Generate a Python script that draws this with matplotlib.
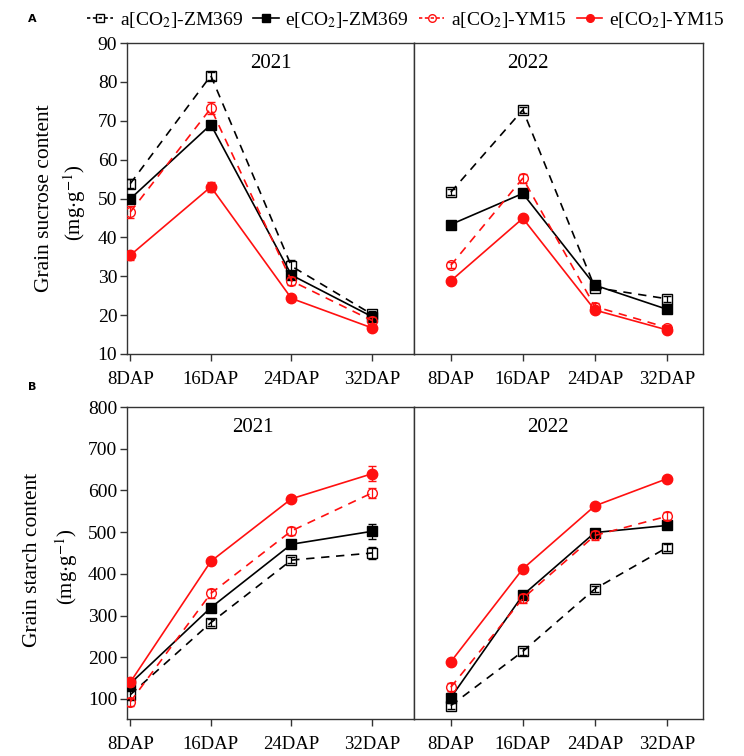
import matplotlib
matplotlib.use("Agg")
import matplotlib.pyplot as plt
from matplotlib.lines import Line2D
import numpy as np

plt.rcParams['font.family'] = ['Liberation Serif', 'DejaVu Serif']
plt.rcParams['mathtext.fontset'] = 'stix'

stages = ['8DAP', '16DAP', '24DAP', '32DAP']
years = ['2021', '2022']

# sucrose content (mg/g), per year
suc_a_zm = [[53.8, 81.6, 32.6, 20.2], [51.6, 72.8, 27.1, 24.2]]
suc_e_zm = [[49.9, 69.0, 30.3, 19.6], [43.3, 51.3, 27.7, 21.5]]
suc_a_ym = [[46.5, 73.2, 28.8, 18.6], [32.8, 55.2, 22.2, 16.8]]
suc_e_ym = [[35.4, 53.0, 24.3, 16.7], [28.8, 44.9, 21.3, 16.2]]
suc_a_zm_err = [[1.2, 1.0, 1.5, 0.8], [0.8, 0.8, 0.5, 0.8]]
suc_e_zm_err = [[0.8, 0.8, 0.8, 0.8], [0.5, 0.5, 0.5, 0.5]]
suc_a_ym_err = [[1.5, 1.5, 1.0, 0.8], [0.8, 1.2, 0.8, 0.6]]
suc_e_ym_err = [[1.2, 1.2, 0.6, 0.6], [0.5, 0.5, 0.5, 0.5]]

# starch content (mg/g), per year
sta_a_zm = [[110, 283, 433, 450], [84, 214, 364, 463]]
sta_e_zm = [[137, 319, 471, 502], [103, 349, 499, 516]]
sta_a_ym = [[93, 353, 503, 594], [128, 341, 492, 538]]
sta_e_ym = [[140, 430, 580, 640], [189, 412, 563, 628]]
sta_a_zm_err = [[10, 8, 8, 15], [8, 8, 8, 8]]
sta_e_zm_err = [[8, 8, 8, 18], [12, 6, 6, 6]]
sta_a_ym_err = [[10, 10, 10, 12], [10, 10, 10, 10]]
sta_e_ym_err = [[8, 6, 6, 18], [6, 6, 6, 6]]

labels = ['a[CO$_2$]-ZM369', 'e[CO$_2$]-ZM369', 'a[CO$_2$]-YM15', 'e[CO$_2$]-YM15']
styles = [
    dict(color='black', ls='--', marker='s', mfc='none', mec='black', ms=6.5),
    dict(color='black', ls='-', marker='s', mfc='black', mec='black', ms=7),
    dict(color='#ff1010', ls='--', marker='o', mfc='none', mec='#ff1010', ms=7),
    dict(color='#ff1010', ls='-', marker='o', mfc='#ff1010', mec='#ff1010', ms=7.5),
]

fig = plt.figure(figsize=(7.44, 7.56), dpi=100)

W, H = 744.0, 756.0
def box(x0, x1, y0, y1):
    return [x0 / W, 1 - y1 / H, (x1 - x0) / W, (y1 - y0) / H]

axA = [fig.add_axes(box(127, 414, 43, 354)), fig.add_axes(box(414, 703, 43, 354))]
axB = [fig.add_axes(box(127, 414, 407, 719)), fig.add_axes(box(414, 703, 407, 719))]

x = np.arange(len(stages))

def draw_panel(axes, series, errs, ylim, yticks, xpos_text):
    for i, ax in enumerate(axes):
        for k, (vals, err) in enumerate(zip(series, errs)):
            st = styles[k]
            ax.errorbar(x, vals[i], yerr=err[i], color=st['color'], ls=st['ls'],
                        lw=1.2, marker=st['marker'], mfc=st['mfc'], mec=st['mec'],
                        ms=st['ms'], mew=1.0, capsize=3, elinewidth=0.9,
                        capthick=0.9, dashes=(5, 4) if st['ls'] == '--' else (None, None),
                        zorder=3 + k)
        ax.set_ylim(*ylim)
        ax.set_xticks(x)
        ax.set_xticklabels(stages, fontsize=13.5)
        for sp in ax.spines.values():
            sp.set_color('#333333')
            sp.set_linewidth(1.0)
        ax.tick_params(axis='x', direction='out', length=5, width=1.0,
                       color='#333333', pad=7)
        ax.text(xpos_text[i], 0.935, years[i], transform=ax.get_xaxis_transform(),
                ha='center', va='center', fontsize=15)
    axes[0].set_xlim(-0.04, 3.52)
    axes[1].set_xlim(-0.51, 3.5)
    axes[0].set_yticks(yticks)
    axes[0].tick_params(axis='y', direction='out', length=5, width=1.0,
                        color='#333333', labelsize=14, pad=2)
    axes[1].set_yticks([])

draw_panel(axA, [suc_a_zm, suc_e_zm, suc_a_ym, suc_e_ym],
           [suc_a_zm_err, suc_e_zm_err, suc_a_ym_err, suc_e_ym_err],
           (10, 90), np.arange(10, 91, 10), [1.75, 1.07])
draw_panel(axB, [sta_a_zm, sta_e_zm, sta_a_ym, sta_e_ym],
           [sta_a_zm_err, sta_e_zm_err, sta_a_ym_err, sta_e_ym_err],
           (52, 800), np.arange(100, 801, 100), [1.52, 1.35])

# axis titles
fig.text(45 / W, 1 - 198 / H, 'Grain sucrose content', rotation=90,
         ha='center', va='center', fontsize=15.5)
fig.text(75 / W, 1 - 203 / H, r'(mg$\cdot$g$^{-1}$)', rotation=90,
         ha='center', va='center', fontsize=15)
fig.text(33 / W, 1 - 560 / H, 'Grain starch content', rotation=90,
         ha='center', va='center', fontsize=15.5)
fig.text(67 / W, 1 - 567 / H, r'(mg$\cdot$g$^{-1}$)', rotation=90,
         ha='center', va='center', fontsize=15)

# panel letters
fig.text(32 / W, 1 - 19 / H, 'A', family='DejaVu Sans', fontweight='bold',
         fontsize=8, ha='center', va='center')
fig.text(32 / W, 1 - 387 / H, 'B', family='DejaVu Sans', fontweight='bold',
         fontsize=8, ha='center', va='center')

handles = [Line2D([], [], color=st['color'], ls=st['ls'], lw=1.2, marker=st['marker'],
                  mfc=st['mfc'], mec=st['mec'], ms=5.5, mew=1.0,
                  dashes=(2, 1.5) if st['ls'] == '--' else (None, None))
           for st in styles]
fig.legend(handles, labels, loc='center', bbox_to_anchor=(406 / W, 1 - 20 / H),
           ncol=4, frameon=False, fontsize=14, handlelength=1.3,
           handletextpad=0.35, columnspacing=0.55, borderpad=0)

fig.savefig('out.png', dpi=100)
